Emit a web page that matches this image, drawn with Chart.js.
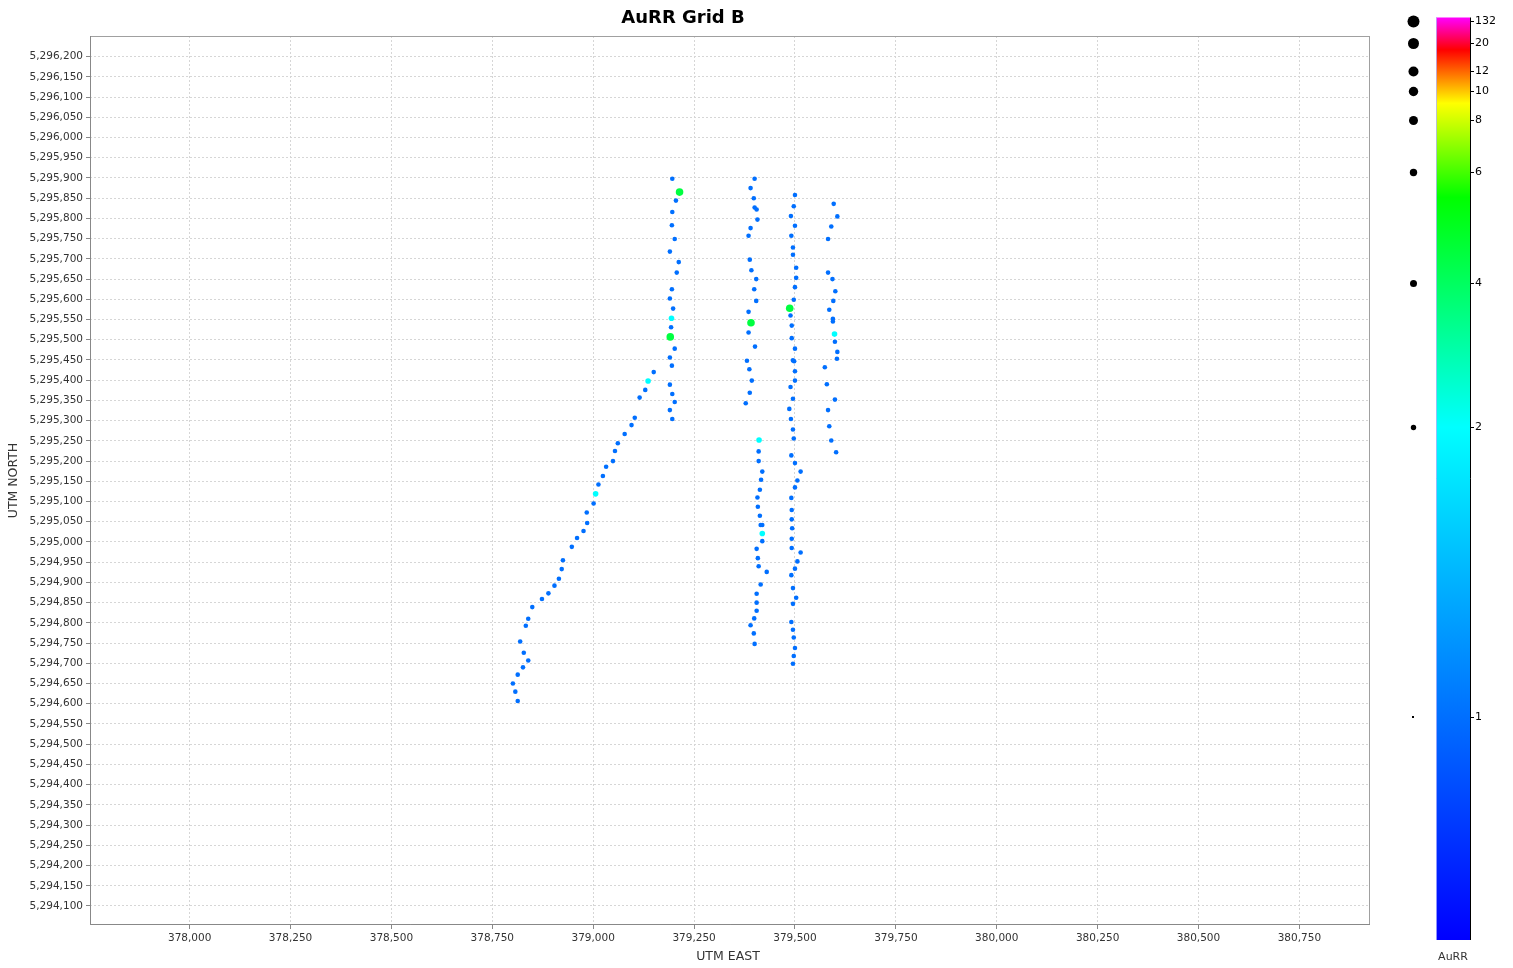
<!DOCTYPE html>
<html>
<head>
<meta charset="utf-8">
<title>AuRR Grid B</title>
<script src="https://cdn.jsdelivr.net/npm/chart.js@4.4.1/dist/chart.umd.min.js"></script>
<style>
  html, body { margin: 0; padding: 0; background: #fff; }
  #wrap { width: 1513px; height: 968px; position: relative; }
</style>
</head>
<body>
<div id="wrap"><canvas id="gridChart"></canvas></div>
<script>
const chartTitle = 'AuRR Grid B';

// west N-S traverse (north to south)
const lineAEast = [379196, 379214, 379205, 379196, 379195, 379202, 379190, 379212, 379207, 379195, 379190, 379198,
  379194, 379193, 379191, 379202, 379190, 379195, 379190, 379196, 379202, 379190, 379196];
const lineANorth = [5295898, 5295865, 5295844, 5295816, 5295783, 5295749, 5295718, 5295692, 5295666, 5295625, 5295602, 5295577,
  5295553, 5295531, 5295507, 5295478, 5295456, 5295436, 5295389, 5295366, 5295346, 5295326, 5295304];
const lineAAu = [1, 4.5, 1, 1, 1, 1, 1, 1, 1, 1, 1, 1,
  2, 1, 4.5, 1, 1, 1, 1, 1, 1, 1, 1];

// diagonal traverse (NE to SW)
const diagEast = [379150, 379136, 379129, 379115, 379103, 379095, 379078, 379061, 379054, 379049, 379032, 379024,
  379013, 379006, 379001, 378984, 378985, 378976, 378960, 378947, 378925, 378922, 378915, 378904,
  378889, 378873, 378849, 378839, 378833, 378819, 378828, 378839, 378826, 378813, 378801, 378807, 378813];
const diagNorth = [5295420, 5295398, 5295376, 5295357, 5295307, 5295289, 5295267, 5295244, 5295225, 5295200, 5295186, 5295163,
  5295142, 5295119, 5295095, 5295073, 5295047, 5295027, 5295010, 5294988, 5294955, 5294933, 5294909, 5294892,
  5294873, 5294859, 5294839, 5294810, 5294793, 5294754, 5294726, 5294707, 5294690, 5294672, 5294650, 5294630, 5294607];
const diagAu = [1, 2, 1, 1, 1, 1, 1, 1, 1, 1, 1, 1,
  1, 2, 1, 1, 1, 1, 1, 1, 1, 1, 1, 1,
  1, 1, 1, 1, 1, 1, 1, 1, 1, 1, 1, 1, 1];

// line at ~379,400 E
const lineBEast = [379400, 379390, 379398, 379400, 379405, 379407, 379390, 379385, 379388, 379392, 379404, 379399,
  379404, 379385, 379391, 379385, 379401, 379381, 379387, 379393, 379388, 379378,
  379411, 379410, 379410, 379419, 379416, 379413, 379407, 379408, 379413, 379415, 379419, 379419,
  379419, 379405, 379408, 379410, 379430, 379415, 379405, 379405, 379405, 379399, 379390, 379398, 379400];
const lineBNorth = [5295898, 5295875, 5295850, 5295827, 5295822, 5295797, 5295776, 5295757, 5295698, 5295672, 5295650, 5295625,
  5295596, 5295569, 5295542, 5295518, 5295483, 5295448, 5295427, 5295399, 5295369, 5295343,
  5295252, 5295224, 5295200, 5295174, 5295154, 5295129, 5295110, 5295087, 5295065, 5295042, 5295042, 5295021,
  5295002, 5294983, 5294960, 5294940, 5294926, 5294895, 5294872, 5294850, 5294830, 5294811, 5294794, 5294774, 5294748];
const lineBAu = [1, 1, 1, 1, 1, 1, 1, 1, 1, 1, 1, 1,
  1, 1, 4.5, 1, 1, 1, 1, 1, 1, 1,
  2, 1, 1, 1, 1, 1, 1, 1, 1, 1, 1, 2,
  1, 1, 1, 1, 1, 1, 1, 1, 1, 1, 1, 1, 1];

// line at ~379,500 E
const lineCEast = [379500, 379497, 379490, 379500, 379491, 379495, 379495, 379503, 379503, 379500, 379497, 379487,
  379489, 379492, 379492, 379500, 379495, 379498, 379500, 379500, 379489, 379495, 379486, 379490,
  379495, 379497, 379491, 379500, 379514, 379506, 379500, 379491, 379492, 379492, 379493, 379492,
  379492, 379514, 379506, 379500, 379491, 379495, 379503, 379495, 379491, 379495, 379497, 379500, 379497, 379495];
const lineCNorth = [5295858, 5295830, 5295806, 5295782, 5295757, 5295728, 5295710, 5295678, 5295653, 5295630, 5295599, 5295578,
  5295560, 5295535, 5295504, 5295478, 5295449, 5295447, 5295422, 5295399, 5295383, 5295354, 5295329, 5295304,
  5295278, 5295256, 5295214, 5295195, 5295174, 5295152, 5295135, 5295109, 5295079, 5295056, 5295034, 5295008,
  5294985, 5294974, 5294952, 5294934, 5294918, 5294886, 5294862, 5294847, 5294802, 5294783, 5294764, 5294738, 5294718, 5294699];
const lineCAu = [1, 1, 1, 1, 1, 1, 1, 1, 1, 1, 1, 4.5,
  1, 1, 1, 1, 1, 1, 1, 1, 1, 1, 1, 1,
  1, 1, 1, 1, 1, 1, 1, 1, 1, 1, 1, 1,
  1, 1, 1, 1, 1, 1, 1, 1, 1, 1, 1, 1, 1, 1];

// line at ~379,590 E
const lineDEast = [379596, 379605, 379590, 379582, 379582, 379593, 379600, 379595, 379585, 379594, 379594, 379598,
  379599, 379605, 379604, 379574, 379579, 379599, 379582, 379585, 379590, 379602];
const lineDNorth = [5295836, 5295805, 5295780, 5295749, 5295666, 5295650, 5295620, 5295596, 5295574, 5295552, 5295545, 5295514,
  5295495, 5295470, 5295453, 5295432, 5295390, 5295352, 5295326, 5295286, 5295251, 5295222];
const lineDAu = [1, 1, 1, 1, 1, 1, 1, 1, 1, 1, 1, 2,
  1, 1, 1, 1, 1, 1, 1, 1, 1, 1];

// axis ranges and tick labels
const eastRange = [377753, 380925];
const northRange = [5294053, 5296251];
const eastTicks = [];
for (let v = 378000; v <= 380750; v += 250) eastTicks.push(v);
const northTicks = [];
for (let v = 5294100; v <= 5296200; v += 50) northTicks.push(v);

// colour scale ticks and where they sit on the bar (0 = bottom, 1 = top)
const scaleTicks = [1, 2, 4, 6, 8, 10, 12, 20, 132];
const scaleFrac = [0.242, 0.556, 0.7125, 0.832, 0.889, 0.92, 0.9424, 0.972, 0.9965];
const colorStops = [[0, [0, 0, 255]], [0.556, [0, 255, 255]], [0.805, [0, 255, 0]],
  [0.907, [255, 255, 0]], [0.965, [255, 0, 0]], [1, [255, 0, 255]]];
const legendRadius = [1, 2.7, 3.5, 3.7, 4.5, 4.7, 5, 5.5, 6];

function fracFor(v) {
  if (v <= scaleTicks[0]) return Math.max(0, v / scaleTicks[0] * scaleFrac[0]);
  for (let i = 1; i < scaleTicks.length; i++) {
    if (v <= scaleTicks[i]) {
      const t = (v - scaleTicks[i - 1]) / (scaleTicks[i] - scaleTicks[i - 1]);
      return scaleFrac[i - 1] + t * (scaleFrac[i] - scaleFrac[i - 1]);
    }
  }
  return 1;
}

function colorFor(v) {
  const f = fracFor(v);
  for (let i = 1; i < colorStops.length; i++) {
    if (f <= colorStops[i][0]) {
      const [f0, c0] = colorStops[i - 1];
      const [f1, c1] = colorStops[i];
      const t = (f - f0) / (f1 - f0);
      const c = c0.map((x, k) => Math.round(x + t * (c1[k] - x)));
      return `rgb(${c[0]},${c[1]},${c[2]})`;
    }
  }
  return 'rgb(255,0,255)';
}

function radiusFor(v) {
  if (v <= 1) return 2.3;
  if (v <= 2) return 2.3 + (v - 1) * 0.5;
  return Math.min(6, 2.8 + (v - 2) * 0.4);
}

function toPoints(east, north, au) {
  return east.map((e, i) => ({ x: e, y: north[i], au: au[i] }));
}

const traverses = [
  toPoints(lineAEast, lineANorth, lineAAu),
  toPoints(diagEast, diagNorth, diagAu),
  toPoints(lineBEast, lineBNorth, lineBAu),
  toPoints(lineCEast, lineCNorth, lineCAu),
  toPoints(lineDEast, lineDNorth, lineDAu)
];

const tickFont = { family: '"DejaVu Sans", sans-serif', size: 10.5 };

const decor = {
  id: 'decor',
  afterDraw(chart) {
    const { ctx, chartArea: a } = chart;
    ctx.save();
    ctx.setLineDash([]);

    // plot frame
    ctx.strokeStyle = '#a0a0a0';
    ctx.lineWidth = 1;
    ctx.strokeRect(a.left + 0.5, a.top + 0.5, a.right - a.left - 1, a.bottom - a.top - 1);
    ctx.strokeStyle = '#888';
    ctx.beginPath();
    ctx.moveTo(a.left + 0.5, a.top);
    ctx.lineTo(a.left + 0.5, a.bottom - 0.5);
    ctx.lineTo(a.right, a.bottom - 0.5);
    ctx.stroke();

    // title and axis titles
    ctx.fillStyle = '#000';
    ctx.textAlign = 'center';
    ctx.textBaseline = 'middle';
    ctx.font = 'bold 18px "DejaVu Sans", sans-serif';
    ctx.fillText(chartTitle, (chart.width - 147) / 2, 18);

    ctx.fillStyle = '#333';
    ctx.font = '12.5px "DejaVu Sans", sans-serif';
    ctx.fillText('UTM EAST', (a.left + a.right) / 2 - 2, 957);
    ctx.save();
    ctx.translate(14, (a.top + a.bottom) / 2);
    ctx.rotate(-Math.PI / 2);
    ctx.fillText('UTM NORTH', 0, 0);
    ctx.restore();

    // colour bar
    const barL = 1436, barR = 1470, barT = 17.5, barB = 940;
    const grad = ctx.createLinearGradient(0, barB, 0, barT);
    colorStops.forEach(([f, c]) => grad.addColorStop(f, `rgb(${c[0]},${c[1]},${c[2]})`));
    ctx.fillStyle = grad;
    ctx.fillRect(barL, barT, barR - barL, barB - barT);
    ctx.strokeStyle = 'rgba(180,180,255,0.8)';
    ctx.beginPath();
    ctx.moveTo(barL + 0.5, barT);
    ctx.lineTo(barL + 0.5, barB);
    ctx.stroke();
    ctx.strokeStyle = '#000';
    ctx.beginPath();
    ctx.moveTo(barR + 0.5, barT);
    ctx.lineTo(barR + 0.5, barB);
    ctx.stroke();

    ctx.font = '11px "DejaVu Sans", sans-serif';
    ctx.textAlign = 'left';
    scaleTicks.forEach((v, i) => {
      const y = Math.round(barB - scaleFrac[i] * (barB - barT)) + 0.5;
      ctx.strokeStyle = '#000';
      ctx.beginPath();
      ctx.moveTo(barR, y);
      ctx.lineTo(barR + 4, y);
      ctx.stroke();
      ctx.fillStyle = '#000';
      ctx.fillText(String(v), barR + 5, y);
      // size legend
      const r = legendRadius[i];
      if (r <= 1) {
        ctx.fillRect(1412, y - 1.5, 2, 2);
      } else {
        ctx.beginPath();
        ctx.arc(1413.5, y, r, 0, Math.PI * 2);
        ctx.fill();
      }
    });
    ctx.fillStyle = '#333';
    ctx.textAlign = 'center';
    ctx.fillText('AuRR', (barL + barR) / 2, 957);
    ctx.restore();
  }
};

const fmt = v => Number(v).toLocaleString('en-US');

new Chart(document.getElementById('gridChart'), {
  type: 'scatter',
  data: {
    datasets: traverses.map(pts => ({
      data: pts,
      pointRadius: c => radiusFor(c.raw.au),
      pointBackgroundColor: c => colorFor(c.raw.au),
      pointBorderWidth: 0,
      pointHoverRadius: 0
    }))
  },
  options: {
    responsive: true,
    maintainAspectRatio: false,
    devicePixelRatio: 1,
    animation: false,
    events: [],
    layout: { padding: { left: 0, right: 143, top: 36, bottom: 0 } },
    plugins: { legend: { display: false }, title: { display: false }, tooltip: { enabled: false } },
    scales: {
      x: {
        type: 'linear',
        min: eastRange[0],
        max: eastRange[1],
        afterBuildTicks: s => { s.ticks = eastTicks.map(v => ({ value: v })); },
        afterFit: s => { s.height = 43; },
        border: { display: false, dash: [2, 2] },
        grid: { color: '#d6d6d6', tickLength: 4, tickColor: '#888', tickBorderDash: [] },
        ticks: { autoSkip: false, maxRotation: 0, padding: 3, color: '#333', font: tickFont, callback: fmt }
      },
      y: {
        type: 'linear',
        min: northRange[0],
        max: northRange[1],
        afterBuildTicks: s => { s.ticks = northTicks.map(v => ({ value: v })); },
        afterFit: s => { s.width = 90; },
        border: { display: false, dash: [2, 2] },
        grid: { color: '#d6d6d6', tickLength: 4, tickColor: '#888', tickBorderDash: [] },
        ticks: { autoSkip: false, padding: 3, color: '#333', font: tickFont, callback: fmt }
      }
    }
  },
  plugins: [decor]
});
</script>
</body>
</html>
